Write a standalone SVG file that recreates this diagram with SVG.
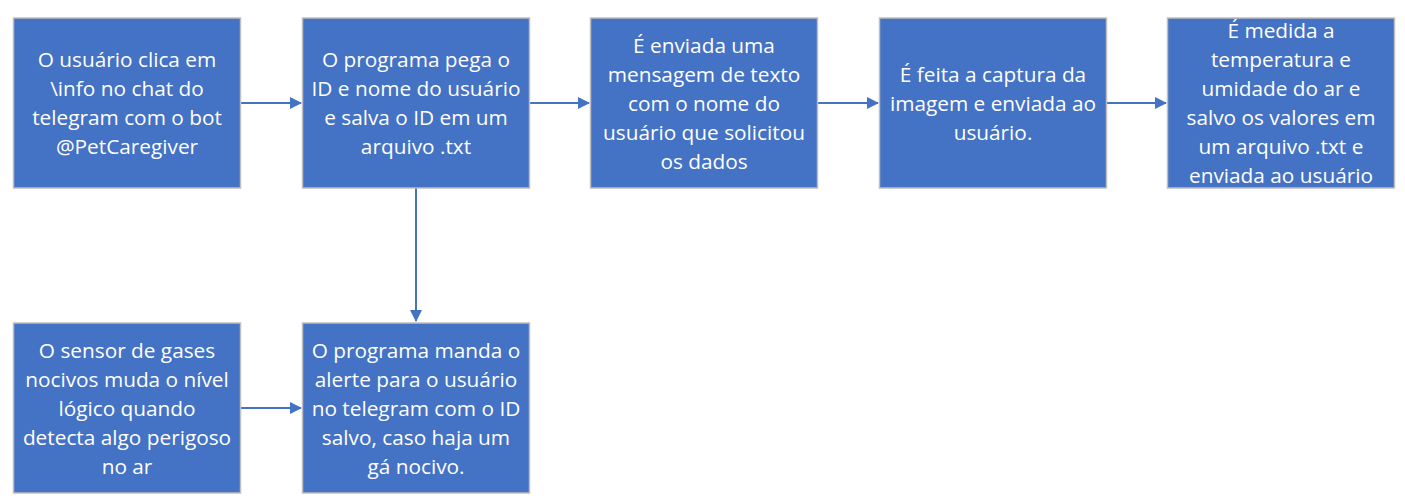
<svg xmlns="http://www.w3.org/2000/svg" width="1405" height="504" viewBox="0 0 1405 504">
<defs>
<style>
.box{fill:#4472C4;stroke:#BFBFBF;stroke-width:1.5}
.t{font-family:"Open Sans","Liberation Sans",sans-serif;font-size:20.8px;fill:#FFFFFF;text-anchor:middle}
.c{stroke:#4472C4;stroke-width:2;fill:none}
</style>
<marker id="ah" markerWidth="12" markerHeight="12" refX="11" refY="6" orient="auto" markerUnits="userSpaceOnUse">
<path d="M0,0 L12,6 L0,12 z" fill="#4472C4"/>
</marker>
</defs>
<rect width="1405" height="504" fill="#FFFFFF"/>
<g id="connectors">
<line class="c" x1="241" y1="103" x2="301" y2="103" marker-end="url(#ah)"/>
<line class="c" x1="530" y1="103" x2="589" y2="103" marker-end="url(#ah)"/>
<line class="c" x1="818" y1="103" x2="878" y2="103" marker-end="url(#ah)"/>
<line class="c" x1="1107" y1="103" x2="1166" y2="103" marker-end="url(#ah)"/>
<line class="c" x1="416" y1="188" x2="416" y2="321" marker-end="url(#ah)"/>
<line class="c" x1="241" y1="408" x2="301" y2="408" marker-end="url(#ah)"/>
</g>
<g id="n1">
<rect class="box" x="13.5" y="18" width="227" height="170"/>
<text class="t" x="127" y="66.5">O usuário clica em</text>
<text class="t" x="127" y="95.5">\info no chat do</text>
<text class="t" x="127" y="124.5">telegram com o bot</text>
<text class="t" x="127" y="153.5">@PetCaregiver</text>
</g>
<g id="n2">
<rect class="box" x="302.5" y="18" width="227" height="170"/>
<text class="t" x="416" y="66.5">O programa pega o</text>
<text class="t" x="416" y="95.5">ID e nome do usuário</text>
<text class="t" x="416" y="124.5">e salva o ID em um</text>
<text class="t" x="416" y="153.5">arquivo .txt</text>
</g>
<g id="n3">
<rect class="box" x="590.5" y="18" width="227" height="170"/>
<text class="t" x="704" y="52.5">É enviada uma</text>
<text class="t" x="704" y="81.5">mensagem de texto</text>
<text class="t" x="704" y="110.5">com o nome do</text>
<text class="t" x="704" y="139.5">usuário que solicitou</text>
<text class="t" x="704" y="168.5">os dados</text>
</g>
<g id="n4">
<rect class="box" x="879.5" y="18" width="227" height="170"/>
<text class="t" x="993" y="81.5">É feita a captura da</text>
<text class="t" x="993" y="110.5">imagem e enviada ao</text>
<text class="t" x="993" y="139.5">usuário.</text>
</g>
<g id="n5">
<rect class="box" x="1167.5" y="18" width="227" height="170"/>
<text class="t" x="1281" y="37.5">É medida a</text>
<text class="t" x="1281" y="66.5">temperatura e</text>
<text class="t" x="1281" y="95.5">umidade do ar e</text>
<text class="t" x="1281" y="124.5">salvo os valores em</text>
<text class="t" x="1281" y="153.5">um arquivo .txt e</text>
<text class="t" x="1281" y="182.5">enviada ao usuário</text>
</g>
<g id="n6">
<rect class="box" x="13.5" y="323" width="227" height="170"/>
<text class="t" x="127" y="357.5">O sensor de gases</text>
<text class="t" x="127" y="386.5">nocivos muda o nível</text>
<text class="t" x="127" y="415.5">lógico quando</text>
<text class="t" x="127" y="444.5">detecta algo perigoso</text>
<text class="t" x="127" y="473.5">no ar</text>
</g>
<g id="n7">
<rect class="box" x="302.5" y="323" width="227" height="170"/>
<text class="t" x="416" y="357.5">O programa manda o</text>
<text class="t" x="416" y="386.5">alerte para o usuário</text>
<text class="t" x="416" y="415.5">no telegram com o ID</text>
<text class="t" x="416" y="444.5">salvo, caso haja um</text>
<text class="t" x="416" y="473.5">gá nocivo.</text>
</g>
</svg>
